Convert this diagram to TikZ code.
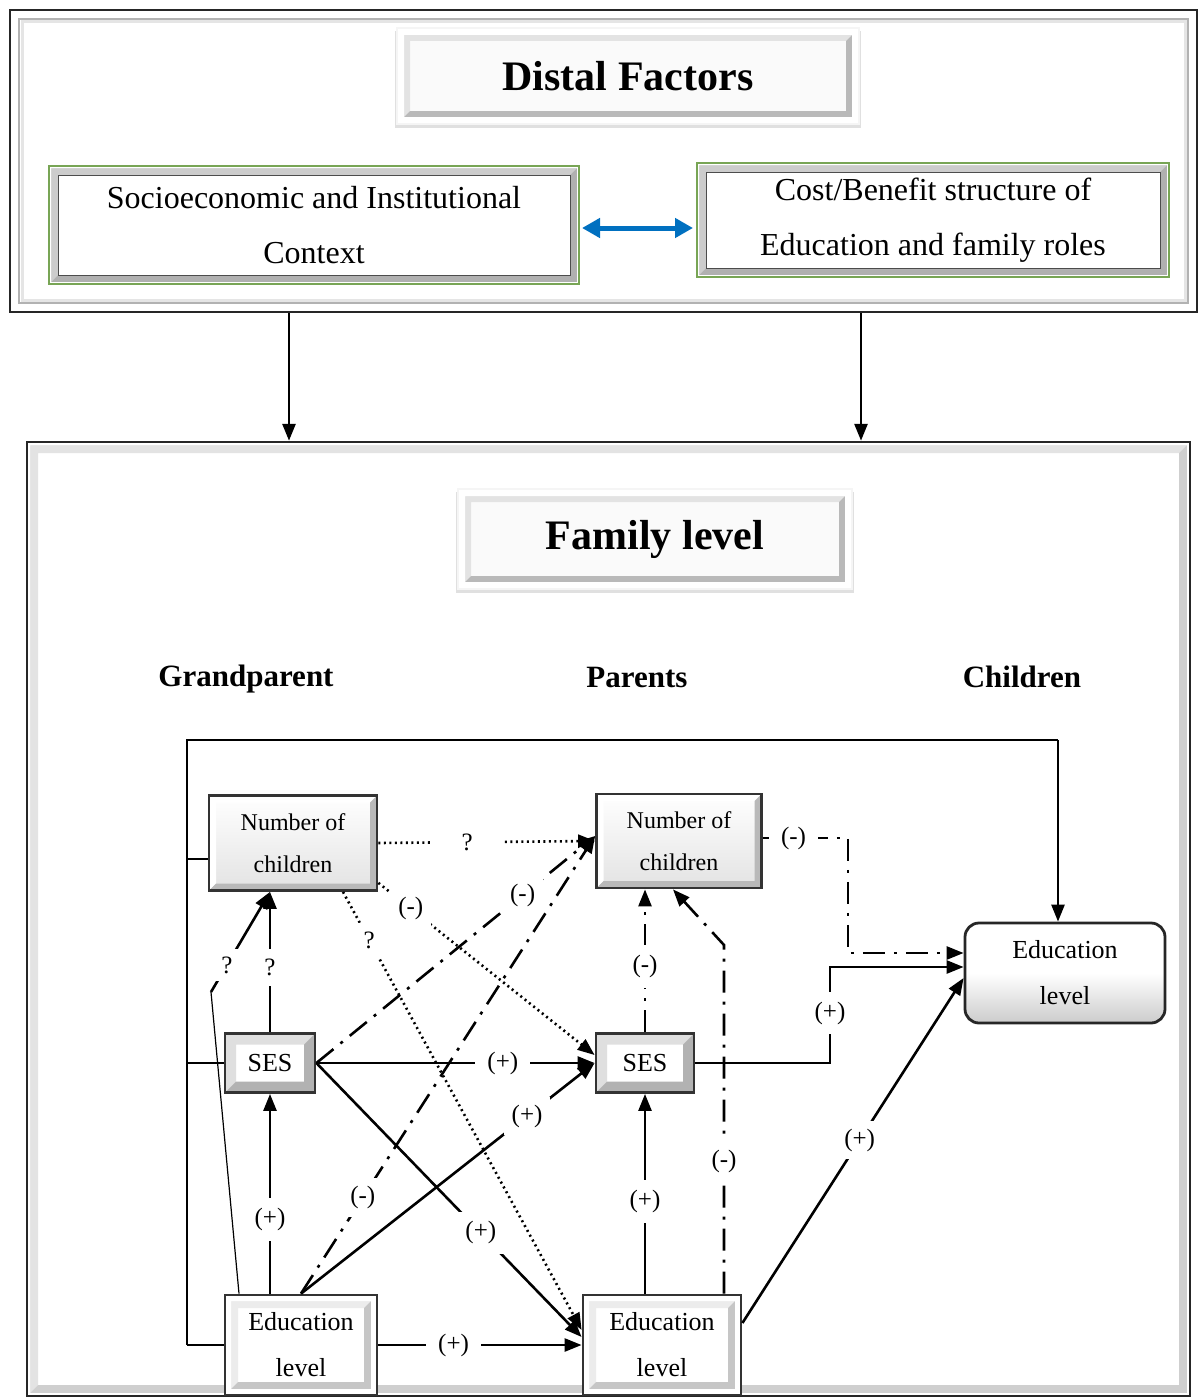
\documentclass[tikz,border=0pt]{standalone}
\usepackage{fontspec}
\setmainfont{Liberation Serif}
\usetikzlibrary{arrows.meta,calc,shadows}

\definecolor{ctxgreen}{RGB}{120,165,85}
\definecolor{linkblue}{RGB}{0,112,192}

% corners of the box that a path picture fills
\newcommand\pbb{%
  \coordinate (bsw) at (path picture bounding box.south west);
  \coordinate (bne) at (path picture bounding box.north east);}
% light strip top/left, dark strip bottom/right
\newcommand\bevel[3]{%
  \fill[#2] (bsw) -- ++(#1,#1) |- ($(bne)-(#1,#1)$) -- (bne) -- (bsw |- bne) -- cycle;
  \fill[#3] (bsw) -- ++(#1,#1) -| ($(bne)-(#1,#1)$) -- (bne) -- (bne |- bsw) -- cycle;}
% plain band along the border
\newcommand\band[2]{%
  \fill[#2, even odd rule] (bsw) rectangle (bne) ($(bsw)+(#1,#1)$) rectangle ($(bne)-(#1,#1)$);}

\tikzset{
  outerbox/.style={draw=black!85, line width=2pt, fill=white, inner sep=0pt,
    path picture={\pbb
      \draw[gray!60, line width=2pt] ($(bsw)+(9pt,9pt)$) rectangle ($(bne)-(9pt,9pt)$);
      \draw[gray!20, line width=3pt] ($(bsw)+(12pt,12pt)$) rectangle ($(bne)-(12pt,12pt)$);}},
  familybox/.style={draw=black!85, line width=2.5pt, fill=white, inner sep=0pt,
    path picture={\pbb\bevel{11pt}{gray!22}{gray!38}\band{3pt}{white}}},
  titlebox/.style={fill=gray!4, draw=gray!8, line width=2pt, inner sep=0pt,
    drop shadow={shadow xshift=0pt, shadow yshift=-3pt, shadow scale=1.01, opacity=0.12, fill=black},
    path picture={\pbb\bevel{13pt}{gray!22}{gray!55}\band{7pt}{white}},
    font=\fontsize{42}{50}\selectfont\bfseries},
  ctxbox/.style={draw=ctxgreen, line width=2pt, fill=white, inner sep=0pt, align=center,
    path picture={\pbb\bevel{9pt}{gray!40}{gray!62}\band{2pt}{white}
      \draw[black!70, line width=1pt] ($(bsw)+(9pt,9pt)$) rectangle ($(bne)-(9pt,9pt)$);},
    font=\fontsize{32}{55}\selectfont},
  levelhead/.style={font=\fontsize{31}{36}\selectfont\bfseries},
  numbox/.style={draw=black!80, line width=2.8pt, top color=white, bottom color=gray!22,
    inner sep=2pt, align=center,
    path picture={\pbb\bevel{7pt}{white}{gray!55}},
    font=\fontsize{24}{42}\selectfont},
  sesbox/.style={draw=black!80, line width=2.8pt, fill=white, inner sep=2pt,
    path picture={\pbb\bevel{11pt}{gray!25}{gray!60}},
    font=\fontsize{26}{30}\selectfont},
  edubox/.style={draw=black!80, line width=2.8pt, fill=white, inner sep=2pt, align=center,
    path picture={\pbb\bevel{13pt}{gray!15}{gray!45}\band{6pt}{white}},
    font=\fontsize{26}{46}\selectfont},
  cedubox/.style={draw=black!85, line width=2.8pt, rounded corners=14pt, top color=white,
    bottom color=gray!40, middle color=white, inner sep=2pt, align=center,
    font=\fontsize{26}{46}\selectfont},
  conn/.style={line width=2.6pt, black},
  arr/.style={conn, -{Triangle[length=17pt,width=13pt]}},
  ddline/.style={dash pattern=on 22pt off 9pt on 3pt off 9pt},
  dotline/.style={dash pattern=on 2pt off 3.5pt},
  thinline/.style={line width=1.2pt, black},
  lbl/.style={fill=white, inner xsep=12pt, inner ysep=10pt, font=\fontsize{25}{30}\selectfont},
  bluearr/.style={draw=linkblue, line width=5pt, shorten >=3pt, shorten <=2pt,
    {Triangle[length=18pt,width=19pt]}-{Triangle[length=18pt,width=19pt]}}
}

\begin{document}
\begin{tikzpicture}[x=1pt, y=-1pt]
  \useasboundingbox (0,0) rectangle (1199,1397);

  % frames
  \node[outerbox, minimum width=1187pt, minimum height=302pt] (distal) at (603.5,161) {};
  \node[familybox, minimum width=1163pt, minimum height=954pt] (family) at (608.5,919) {};

  % distal factors
  \node[titlebox, minimum width=462pt, minimum height=96pt] (distalT) at (628,76) {Distal Factors};
  \node[ctxbox, minimum width=530pt, minimum height=118pt] (socio) at (314,225) {Socioeconomic and Institutional\\Context};
  \node[ctxbox, minimum width=472pt, minimum height=114pt] (cost) at (933,220) {Cost/Benefit structure of\\Education and family roles};
  \coordinate (ctx) at (0,228);
  \draw[bluearr] (socio.east |- ctx) -- (cost.west |- ctx);

  \coordinate (a1) at (289,0);
  \coordinate (a2) at (861,0);
  \draw[arr, line width=2.8pt] (distal.south -| a1) -- (family.north -| a1);
  \draw[arr, line width=2.8pt] (distal.south -| a2) -- (family.north -| a2);

  % family level
  \node[titlebox, minimum width=394pt, minimum height=100pt] (familyT) at (655,539) {Family level};
  \node[levelhead] (grand) at (246,679) {Grandparent};
  \node[levelhead] (parents) at (637,677) {Parents};
  \node[levelhead] (children) at (1022,677) {Children};

  \node[numbox, minimum width=168pt, minimum height=95pt] (gnum) at (293,843) {Number of\\children};
  \node[numbox, minimum width=165pt, minimum height=94pt] (pnum) at (679,841) {Number of\\children};
  \node[sesbox, minimum width=90pt, minimum height=59pt] (gses) at (270,1063) {SES};
  \node[sesbox, minimum width=98pt, minimum height=59pt] (pses) at (645,1063) {SES};
  \node[edubox, minimum width=152pt, minimum height=100pt] (gedu) at (301,1345) {Education\\level};
  \node[edubox, minimum width=158pt, minimum height=100pt] (pedu) at (662,1345) {Education\\level};
  \node[cedubox, minimum width=200pt, minimum height=100pt] (cedu) at (1065,973) {Education\\level};

  \coordinate (lt) at (187,740);
  \coordinate (rt) at (1058,740);
  \coordinate (ebend) at (211,992);
  \coordinate (pbend) at (724,945);
  \coordinate (nbend) at (848,838);
  \coordinate (sbend) at (830,967);
  \coordinate (gtick) at ([yshift=-16pt]gnum.west);

  % line round the grandparent column
  \draw[thinline] (lt |- gedu.west) -- (lt) -- (rt);
  \draw[arr] (rt) -- (cedu.north -| rt);
  \draw[conn] (gedu.west) -- (gedu.west -| lt);
  \draw[conn] (gses.west) -- (gses.west -| lt);
  \draw[conn] (gtick) -- (gtick -| lt);

  % grandparent
  \draw[arr] (gses.north) -- node[lbl, pos=0.46] {?} (gses.north |- gnum.south);
  \draw[thinline] ([xshift=-62pt]gedu.north) -- (ebend);
  \draw[arr] (ebend) -- node[lbl, pos=0.27, inner sep=8pt] {?} ([xshift=-23pt]gnum.south);
  \draw[arr] (gses.south |- gedu.north) -- node[lbl, pos=0.37] {(+)} (gses.south);

  % grandparent to parents
  \draw[arr, dotline] (gnum.east) -- node[lbl, pos=0.41, inner xsep=30pt] {?} (pnum.west);
  \draw[arr, dotline] ([xshift=50pt]gnum.south) -- node[lbl, pos=0.11, inner sep=9pt] {?} ([yshift=15pt]pedu.west);
  \draw[arr, dotline] ([yshift=9pt]gnum.south east) -- node[lbl, pos=0.15, inner sep=8pt] {(-)} ([yshift=8pt]pses.west);
  \draw[arr, ddline] (gses.east) -- node[lbl, pos=0.74, inner sep=8pt] {(-)} ([yshift=5pt]pnum.west);
  \draw[arr] (gses.east) -- node[lbl, pos=0.67] {(+)} (pses.west);
  \draw[arr] (gses.east) -- node[lbl, pos=0.62] {(+)} ([yshift=8pt]pedu.west);
  \draw[arr, ddline] (gedu.north) -- node[lbl, pos=0.21, inner sep=8pt] {(-)} ([yshift=5pt]pnum.west);
  \draw[arr] (gedu.north) -- node[lbl, pos=0.77, inner sep=8pt] {(+)} (pses.west);
  \draw[arr] (gedu.east) -- node[lbl, pos=0.37] {(+)} (gedu.east -| pedu.west);

  % parents
  \draw[arr, ddline] (pses.north) -- node[lbl, pos=0.46] {(-)} (pses.north |- pnum.south);
  \draw[arr] (pses.south |- pedu.north) -- node[lbl, pos=0.46] {(+)} (pses.south);
  \draw[arr, ddline] (pedu.north -| pbend) -- node[lbl, pos=0.38] {(-)} (pbend) -- ([xshift=-6pt]pnum.south);

  % parents to children
  \draw[arr, ddline] (pnum.east |- nbend) -- node[lbl, pos=0.36] {(-)} (nbend) |- ([yshift=20pt]cedu.west);
  \draw[arr] (pses.east) -| node[lbl, pos=0.76] {(+)} (sbend) -- ([yshift=6pt]cedu.west);
  \draw[arr] ([yshift=22pt]pedu.east) -- node[lbl, pos=0.53, inner sep=8pt] {(+)} ([yshift=-5pt]cedu.west);
\end{tikzpicture}
\end{document}
